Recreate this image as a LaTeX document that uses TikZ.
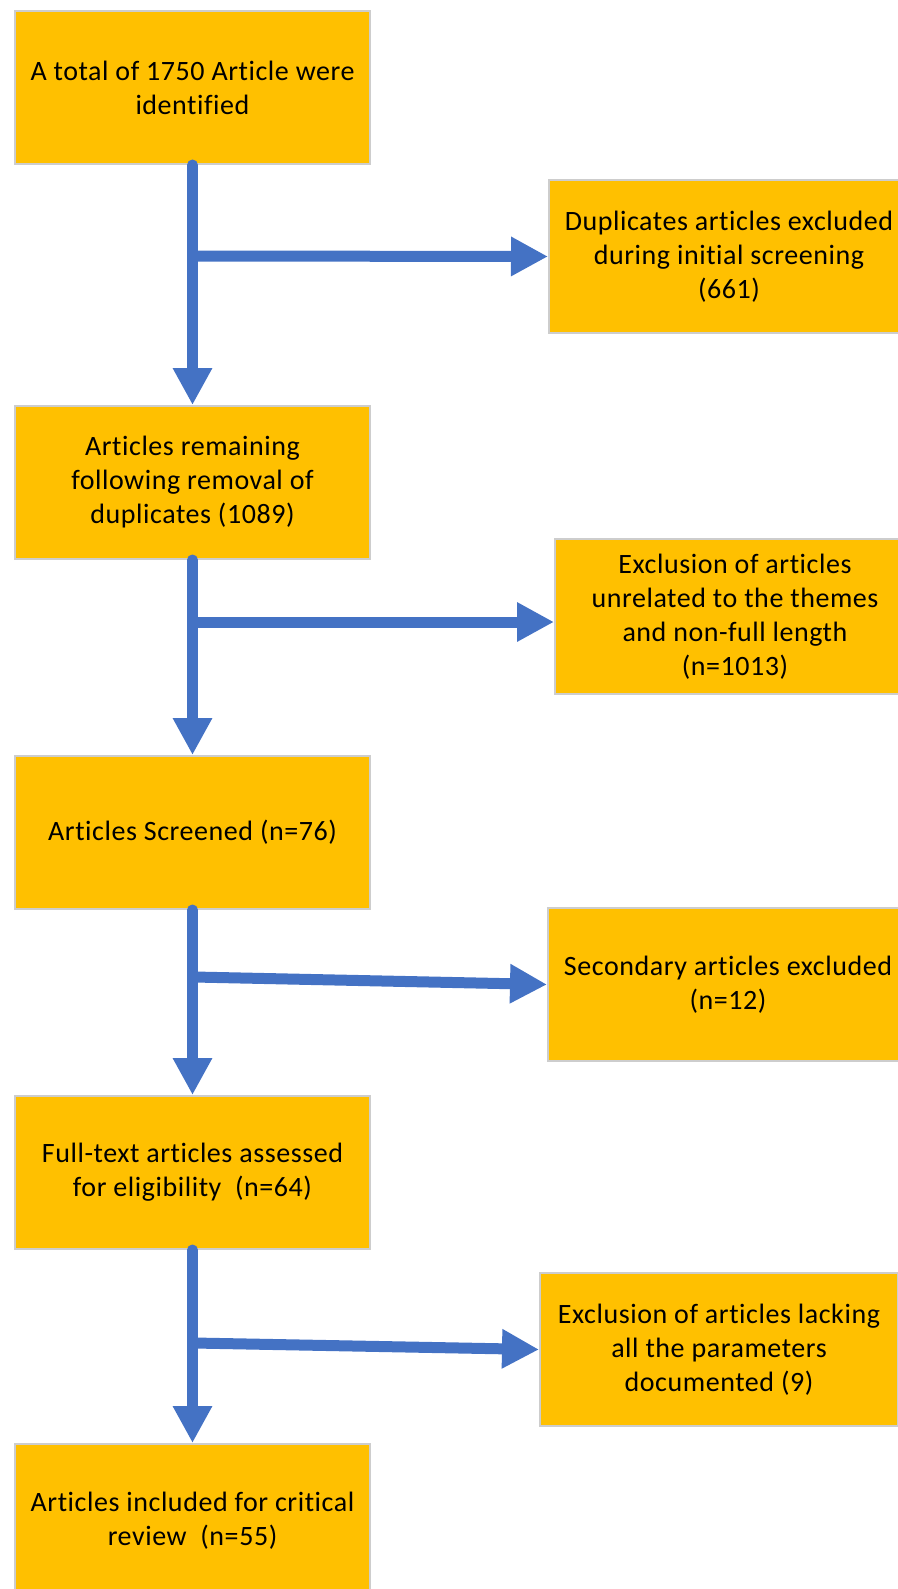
\documentclass[tikz,border=0pt]{standalone}
\usepackage{fontspec}
\setmainfont{Carlito}[Ligatures=NoCommon, LetterSpace=2]
\usepackage{tikz}
\usetikzlibrary{arrows.meta}
\definecolor{boxfill}{HTML}{FFC000}
\definecolor{boxline}{RGB}{205,205,205}
\definecolor{flowblue}{HTML}{4472C4}

\begin{document}
\begin{tikzpicture}[x=0.5pt, y=-0.5pt,
  stage/.style={draw=boxline, line width=1pt, fill=boxfill, anchor=north west, align=center,
    inner sep=0pt, minimum width=177.5pt, minimum height=76.5pt, font=\fontsize{14}{17}\selectfont},
  excl/.style={stage, minimum width=180pt},
  flow/.style={draw=flowblue, fill=flowblue, line width=5.5pt, -{Triangle[width=18.5pt,length=18.5pt]}}]
\useasboundingbox (0,0) rectangle (898,1589);
\node [stage] (identified) at (14,10) {A total of 1750 Article were\\identified};
\node [stage] (remaining) at (14,405) {Articles remaining\\following removal of\\duplicates (1089)};
\node [stage] (screened) at (14,755) {Articles Screened (n=76)};
\node [stage] (fulltext) at (14,1095) {Full-text articles assessed\\for eligibility~~(n=64)};
\node [stage] (included) at (14,1443) {Articles included for critical\\review~~(n=55)};
\node [excl] (dupes) at (548,179) {Duplicates articles excluded\\during initial screening\\(661)};
\node [excl, minimum height=77.5pt] (unrelated) at (554,538) {Exclusion of articles\\unrelated to the themes\\and non-full length\\(n=1013)};
\node [excl] (secondary) at (547,907) {Secondary articles excluded\\(n=12)};
\node [excl, minimum width=179pt] (lacking) at (539,1272) {Exclusion of articles lacking\\all the parameters\\documented (9)};
\coordinate (j1) at (192,256);
\coordinate (j2) at (192,622);
\coordinate (j3) at (194,977);
\coordinate (j4) at (194,1343);
\draw [flow, line cap=round] (identified.south) -- (remaining.north);
\draw [flow, line cap=round] (remaining.south) -- (screened.north);
\draw [flow, line cap=round] (screened.south) -- (fulltext.north);
\draw [flow, line cap=round] (fulltext.south) -- (included.north);
\draw [flow] (j1) -- (dupes.west);
\draw [flow] (j2) -- (j2 -| unrelated.west);
\draw [flow] (j3) -- (secondary.west);
\draw [flow] (j4) -- (lacking.west);
\end{tikzpicture}
\end{document}
